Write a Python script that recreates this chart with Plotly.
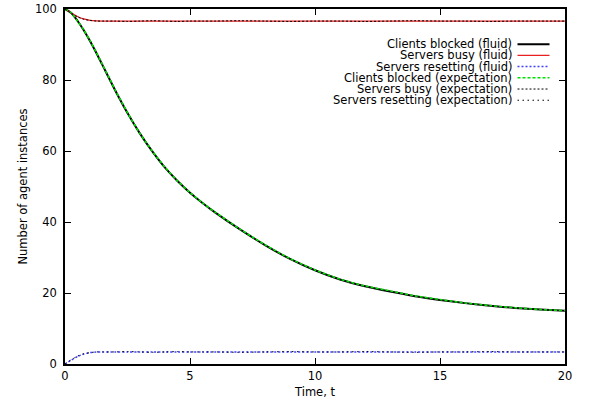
import plotly.graph_objects as go

# ---------------- data ----------------
time_t = [0, 0.25, 0.5, 0.75, 1, 1.25, 1.5, 2, 2.5, 3, 3.5, 4, 4.5, 5, 5.5, 6, 7, 8, 9,
          10, 11, 12, 13, 14, 15, 16, 17, 18, 19, 20]

clients_fluid = [100, 98.9, 96.7, 94.0, 91.0, 87.7, 84.2, 77.2, 70.7, 64.9, 59.8, 55.3,
                 51.55, 48.25, 45.35, 42.7, 37.9, 33.5, 29.6, 26.4, 23.8, 21.9, 20.4, 19.1,
                 18.05, 17.15, 16.4, 15.8, 15.35, 15.0]
busy_fluid = [100, 98.9, 97.9, 97.2, 96.8, 96.65, 96.6, 96.6, 96.6, 96.6, 96.6, 96.6,
              96.6, 96.6, 96.6, 96.6, 96.6, 96.6, 96.6, 96.6, 96.6, 96.6, 96.6, 96.6,
              96.6, 96.6, 96.6, 96.6, 96.6, 96.6]
reset_fluid = [0, 1.1, 2.1, 2.8, 3.2, 3.35, 3.4, 3.4, 3.4, 3.4, 3.4, 3.4, 3.4, 3.4, 3.4,
               3.4, 3.4, 3.4, 3.4, 3.4, 3.4, 3.4, 3.4, 3.4, 3.4, 3.4, 3.4, 3.4, 3.4, 3.4]

clients_expect = [100, 98.9, 96.6, 94.1, 91.1, 87.8, 84.3, 77.3, 70.8, 64.9, 59.9, 55.4,
                  51.6, 48.3, 45.4, 42.8, 38.0, 33.6, 29.7, 26.5, 23.9, 22.0, 20.6, 19.2,
                  18.15, 17.2, 16.45, 15.85, 15.35, 15.05]
busy_expect = [100, 98.8, 97.8, 97.1, 96.8, 96.6, 96.6, 96.6, 96.5, 96.6, 96.7, 96.6,
               96.5, 96.6, 96.6, 96.6, 96.7, 96.6, 96.5, 96.6, 96.6, 96.5, 96.6, 96.7,
               96.6, 96.6, 96.5, 96.6, 96.6, 96.6]
reset_expect = [0, 1.2, 2.2, 2.9, 3.2, 3.4, 3.4, 3.4, 3.5, 3.4, 3.3, 3.4, 3.5, 3.4, 3.4,
                3.4, 3.3, 3.4, 3.5, 3.4, 3.4, 3.5, 3.4, 3.3, 3.4, 3.4, 3.5, 3.4, 3.4, 3.4]

series_names = ["Clients blocked (fluid)", "Servers busy (fluid)", "Servers resetting (fluid)",
                "Clients blocked (expectation)", "Servers busy (expectation)",
                "Servers resetting (expectation)"]
series_vals = [clients_fluid, busy_fluid, reset_fluid, clients_expect, busy_expect, reset_expect]
series_colors = ["#000000", "#e82020", "#4040ff", "#00e000", "#000000", "#000000"]
series_dash = ["solid", "solid", "2px,2px", "3px,2px", "2px,2px", "1.5px,3.5px"]
series_width = [2, 1.2, 1.5, 1.6, 1, 1]

FONT = "DejaVu Sans"
FS = 11.5

fig = go.Figure()
for name, vals, col, dash, w in zip(series_names, series_vals, series_colors, series_dash, series_width):
    fig.add_trace(go.Scatter(x=time_t, y=vals, mode="lines", name=name,
                             line=dict(color=col, dash=dash, width=w, shape="spline", smoothing=0.8),
                             showlegend=False))

# gnuplot-style key: right-aligned text, line sample to the right
row0 = 0.901
dy = 0.0316
for i, (name, col, dash, w) in enumerate(zip(series_names, series_colors, series_dash, series_width)):
    yy = row0 - i * dy
    fig.add_annotation(x=0.897, y=yy, xref="paper", yref="paper", text=name, showarrow=False,
                       xanchor="right", yanchor="middle", font=dict(family=FONT, size=FS, color="#000"))
    fig.add_shape(type="line", xref="paper", yref="paper", x0=0.905, x1=0.969, y0=yy, y1=yy,
                  line=dict(color=col, dash=dash, width=max(w, 1)))

axis_common = dict(showgrid=False, zeroline=False, showline=True, linecolor="#000", linewidth=1.5,
                   mirror="ticks", ticks="inside", ticklen=6, tickcolor="#000", tickwidth=1,
                   automargin=False,
                   tickfont=dict(family=FONT, size=FS, color="#000"))

fig.update_xaxes(range=[0, 20], tickvals=[0, 5, 10, 15, 20],
                 title=dict(text="Time, t", font=dict(family=FONT, size=FS, color="#000"), standoff=6),
                 **axis_common)
fig.update_yaxes(range=[0, 100], tickvals=[0, 20, 40, 60, 80, 100], ticklabelstandoff=4,
                 title=dict(text="Number of agent instances", font=dict(family=FONT, size=FS, color="#000"), standoff=5),
                 **axis_common)

fig.update_layout(width=591, height=403, margin=dict(l=65, r=26, t=9, b=39),
                  plot_bgcolor="white", paper_bgcolor="white",
                  font=dict(family=FONT, size=FS, color="#000"))

fig.write_html("out.html", config={"displayModeBar": False},
               post_script="document.body.style.margin='0';")
